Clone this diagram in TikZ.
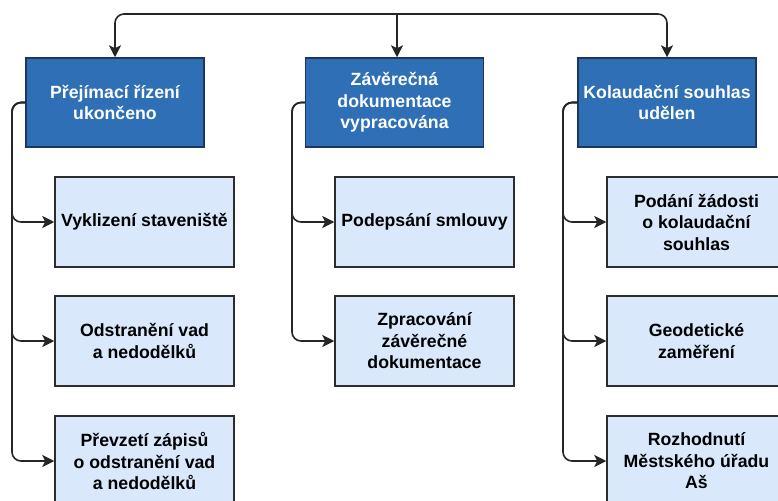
\documentclass[tikz,border=0pt]{standalone}
\usepackage{fontspec}
\setmainfont{Liberation Sans}
\usetikzlibrary{arrows.meta}
\definecolor{headfill}{RGB}{46,111,181}
\definecolor{headdraw}{RGB}{28,55,92}
\definecolor{itemfill}{RGB}{218,232,252}
\definecolor{itemdraw}{RGB}{45,45,45}
\begin{document}
\begin{tikzpicture}[x=1pt,y=-1pt,
  head/.style={draw=headdraw, fill=headfill, text=white, line width=1.5,
    minimum width=178, minimum height=89, inner sep=0, align=center,
    font=\fontsize{17.7}{21.5}\selectfont\bfseries},
  item/.style={draw=itemdraw, fill=itemfill, text=black, line width=1.5,
    minimum width=179, minimum height=90, inner sep=0, align=center,
    font=\fontsize{17.7}{21.5}\selectfont\bfseries},
  link/.style={draw=black!85, line width=1.6, rounded corners=9,
    -{Stealth[length=12,width=12,inset=3]}}]
\useasboundingbox (0,0) rectangle (778,500);
\fill[white] (0,0) rectangle (778,500);
\clip (0,0) rectangle (778,500);

% phase headers
\node[head] (h1) at (115,102.5) {Přejímací řízení\\ukončeno};
\node[head] (h2) at (394.5,102.5) {Závěrečná\\dokumentace\\vypracována};
\node[head] (h3) at (667,102.5) {Kolaudační souhlas\\udělen};

% tasks of phase 1
\node[item] (a1) at (144.5,222) {Vyklizení staveniště};
\node[item] (a2) at (144.5,341) {Odstranění vad\\a nedodělků};
\node[item] (a3) at (144.5,461) {Převzetí zápisů\\o odstranění vad\\a nedodělků};

% tasks of phase 2
\node[item] (b1) at (424.5,222) {Podepsání smlouvy};
\node[item] (b2) at (424.5,341) {Zpracování\\závěrečné\\dokumentace};

% tasks of phase 3
\node[item] (c1) at (696.5,222) {Podání žádosti\\o kolaudační\\souhlas};
\node[item] (c2) at (696.5,341) {Geodetické\\zaměření};
\node[item] (c3) at (696.5,461) {Rozhodnutí\\Městského úřadu\\Aš};

% distribution line across the top
\coordinate (root) at (397,14);
\draw[link] (root) -| (h1.north);
\draw[link] (root) -| (h3.north);
\draw[link] (root) -- (root |- h2.north);

% vertical buses on the left of each column
\coordinate (busA) at (12,0);
\coordinate (busB) at (292,0);
\coordinate (busC) at (563,0);
\foreach \t in {a1,a2,a3}
  \draw[link] (h1.west) -- (h1.west -| busA) |- (\t.west);
\foreach \t in {b1,b2}
  \draw[link] (h2.west) -- (h2.west -| busB) |- (\t.west);
\foreach \t in {c1,c2,c3}
  \draw[link] (h3.west) -- (h3.west -| busC) |- (\t.west);
\end{tikzpicture}
\end{document}
